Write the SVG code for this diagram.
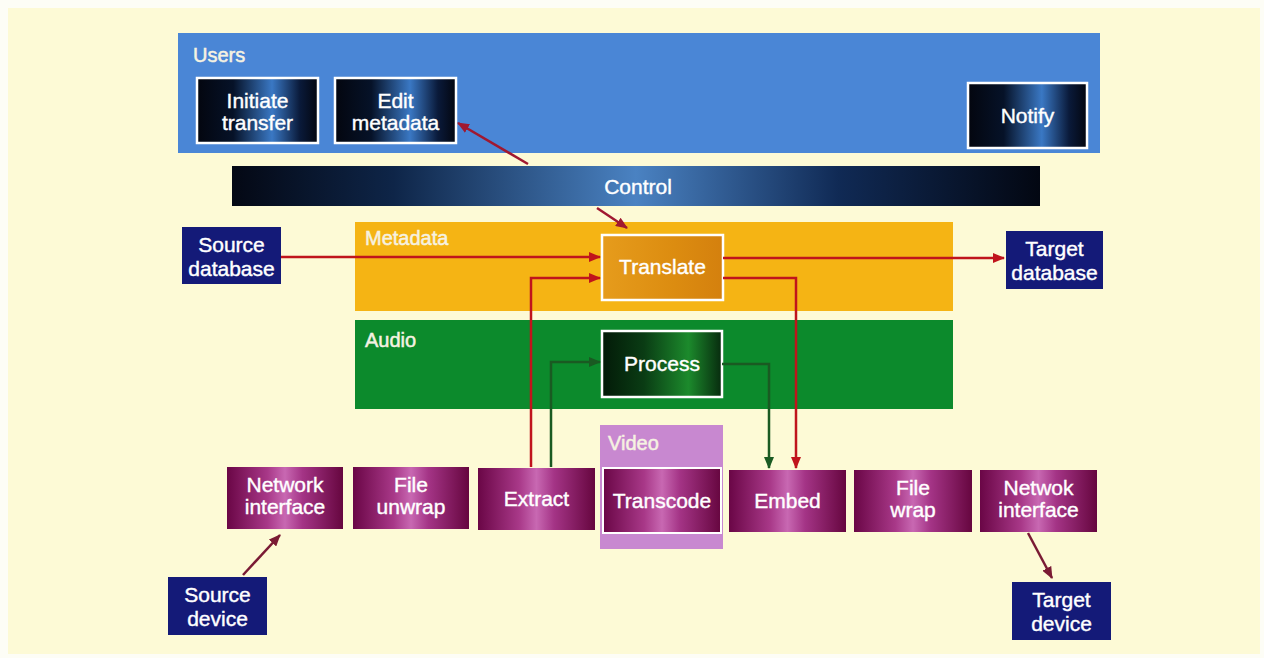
<svg xmlns="http://www.w3.org/2000/svg" width="1264" height="658" viewBox="0 0 1264 658">
  <defs>
    <style>
      .t { font-family: "Liberation Sans", Arial, sans-serif; font-size: 21px; fill: #ffffff; stroke: #ffffff; stroke-width: 0.4; text-anchor: middle; }
      .lbl { font-family: "Liberation Sans", Arial, sans-serif; font-size: 20px; fill: #f6f2e2; stroke: #f6f2e2; stroke-width: 0.5; }
      .box { stroke: #ffffff; stroke-width: 2.5; }
      .navy { fill: #141a78; }
      .purple { fill: url(#gPurple); }
      .red { stroke: #c0141c; stroke-width: 2.5; fill: none; }
      .green { stroke: #1a5a22; stroke-width: 2.5; fill: none; }
      .maroon { stroke: #7a1a34; stroke-width: 2.5; fill: none; }
      .ctl { stroke: #a01830; stroke-width: 2.5; fill: none; }
    </style>
    <linearGradient id="gUser" x1="0" y1="0" x2="1" y2="0">
      <stop offset="0" stop-color="#03060f"/>
      <stop offset="0.3" stop-color="#061228"/>
      <stop offset="0.62" stop-color="#3a78c4"/>
      <stop offset="0.85" stop-color="#0a1a3a"/>
      <stop offset="1" stop-color="#03060f"/>
    </linearGradient>
    <linearGradient id="gControl" x1="0" y1="0" x2="1" y2="0">
      <stop offset="0" stop-color="#040814"/>
      <stop offset="0.2" stop-color="#0e2548"/>
      <stop offset="0.5" stop-color="#4a82c2"/>
      <stop offset="0.75" stop-color="#102a55"/>
      <stop offset="1" stop-color="#030712"/>
    </linearGradient>
    <linearGradient id="gPurple" x1="0" y1="0" x2="1" y2="0">
      <stop offset="0" stop-color="#6a0646"/>
      <stop offset="0.35" stop-color="#a83888"/>
      <stop offset="0.5" stop-color="#c868b2"/>
      <stop offset="0.65" stop-color="#a43486"/>
      <stop offset="1" stop-color="#66063f"/>
    </linearGradient>
    <linearGradient id="gTranslate" x1="0" y1="0" x2="1" y2="0">
      <stop offset="0" stop-color="#e69c1c"/>
      <stop offset="0.6" stop-color="#dc8c10"/>
      <stop offset="1" stop-color="#d4800e"/>
    </linearGradient>
    <linearGradient id="gProcess" x1="0" y1="0" x2="1" y2="0">
      <stop offset="0" stop-color="#031a08"/>
      <stop offset="0.35" stop-color="#0a3c14"/>
      <stop offset="0.72" stop-color="#1c8a2c"/>
      <stop offset="1" stop-color="#072a0e"/>
    </linearGradient>
    <marker id="aRed" viewBox="0 0 12 10" refX="11" refY="5" markerWidth="12" markerHeight="10" markerUnits="userSpaceOnUse" orient="auto">
      <path d="M0,0 L12,5 L0,10 Z" fill="#c0141c"/>
    </marker>
    <marker id="aGreen" viewBox="0 0 12 10" refX="11" refY="5" markerWidth="12" markerHeight="10" markerUnits="userSpaceOnUse" orient="auto">
      <path d="M0,0 L12,5 L0,10 Z" fill="#1a5a22"/>
    </marker>
    <marker id="aMaroon" viewBox="0 0 12 10" refX="11" refY="5" markerWidth="12" markerHeight="10" markerUnits="userSpaceOnUse" orient="auto">
      <path d="M0,0 L12,5 L0,10 Z" fill="#7a1a34"/>
    </marker>
    <marker id="aCtl" viewBox="0 0 12 10" refX="11" refY="5" markerWidth="12" markerHeight="10" markerUnits="userSpaceOnUse" orient="auto">
      <path d="M0,0 L12,5 L0,10 Z" fill="#a01830"/>
    </marker>
  </defs>

  <!-- page -->
  <rect x="0" y="0" width="1264" height="658" fill="#fdfdf6"/>
  <rect x="8" y="8" width="1252" height="646" fill="#fdfad6"/>

  <!-- layer bands -->
  <g id="users">
    <rect x="178" y="33" width="922" height="120" fill="#4a86d6"/>
    <text class="lbl" x="193" y="62">Users</text>
  </g>
  <g id="control">
    <rect x="232" y="166" width="808" height="40" fill="url(#gControl)"/>
    <text class="t" x="638" y="194">Control</text>
  </g>
  <g id="metadata">
    <rect x="355" y="222" width="598" height="89" fill="#f5b414"/>
    <text class="lbl" x="365" y="245">Metadata</text>
  </g>
  <g id="audio">
    <rect x="355" y="320" width="598" height="89" fill="#0c8a2c"/>
    <text class="lbl" x="365" y="347">Audio</text>
  </g>
  <g id="video">
    <rect x="600" y="425" width="123" height="124" fill="#c888d0"/>
    <text class="lbl" x="608" y="450">Video</text>
  </g>

  <!-- user actions -->
  <g id="initiate-transfer">
    <rect class="box" x="197" y="78" width="121" height="65" fill="url(#gUser)"/>
    <text class="t" x="257.5" y="108">Initiate</text>
    <text class="t" x="257.5" y="130">transfer</text>
  </g>
  <g id="edit-metadata">
    <rect class="box" x="335" y="78" width="121" height="65" fill="url(#gUser)"/>
    <text class="t" x="395.5" y="108">Edit</text>
    <text class="t" x="395.5" y="130">metadata</text>
  </g>
  <g id="notify">
    <rect class="box" x="968" y="83" width="119" height="65" fill="url(#gUser)"/>
    <text class="t" x="1027.5" y="123">Notify</text>
  </g>

  <!-- processing steps -->
  <g id="translate">
    <rect class="box" x="602" y="235" width="121" height="65" fill="url(#gTranslate)"/>
    <text class="t" x="662.5" y="274">Translate</text>
  </g>
  <g id="process">
    <rect class="box" x="602" y="331" width="120" height="66" fill="url(#gProcess)"/>
    <text class="t" x="662" y="371">Process</text>
  </g>

  <!-- databases and devices -->
  <g id="source-database">
    <rect class="navy" x="182" y="227" width="99" height="57"/>
    <text class="t" x="231.5" y="252">Source</text>
    <text class="t" x="231.5" y="276">database</text>
  </g>
  <g id="target-database">
    <rect class="navy" x="1006" y="231" width="97" height="58"/>
    <text class="t" x="1054.5" y="256">Target</text>
    <text class="t" x="1054.5" y="280">database</text>
  </g>
  <g id="source-device">
    <rect class="navy" x="168" y="577" width="99" height="58"/>
    <text class="t" x="217.5" y="602">Source</text>
    <text class="t" x="217.5" y="626">device</text>
  </g>
  <g id="target-device">
    <rect class="navy" x="1012" y="582" width="99" height="58"/>
    <text class="t" x="1061.5" y="607">Target</text>
    <text class="t" x="1061.5" y="631">device</text>
  </g>

  <!-- transfer chain -->
  <g id="network-interface-in">
    <rect class="purple" x="227" y="467" width="116" height="62"/>
    <text class="t" x="285" y="492">Network</text>
    <text class="t" x="285" y="514">interface</text>
  </g>
  <g id="file-unwrap">
    <rect class="purple" x="353" y="467" width="116" height="62"/>
    <text class="t" x="411" y="492">File</text>
    <text class="t" x="411" y="514">unwrap</text>
  </g>
  <g id="extract">
    <rect class="purple" x="478" y="468" width="117" height="62"/>
    <text class="t" x="536.5" y="506">Extract</text>
  </g>
  <g id="transcode">
    <rect class="purple" x="603" y="468" width="118" height="65" stroke="#ffffff" stroke-width="2"/>
    <text class="t" x="662" y="508">Transcode</text>
  </g>
  <g id="embed">
    <rect class="purple" x="729" y="470" width="117" height="62"/>
    <text class="t" x="787.5" y="508">Embed</text>
  </g>
  <g id="file-wrap">
    <rect class="purple" x="854" y="470" width="118" height="62"/>
    <text class="t" x="913" y="495">File</text>
    <text class="t" x="913" y="517">wrap</text>
  </g>
  <g id="network-interface-out">
    <rect class="purple" x="980" y="470" width="117" height="62"/>
    <text class="t" x="1038.5" y="495">Netwok</text>
    <text class="t" x="1038.5" y="517">interface</text>
  </g>

  <!-- connectors -->
  <g id="connectors">
    <line class="ctl" x1="528" y1="164" x2="458" y2="123" marker-end="url(#aCtl)"/>
    <line class="ctl" x1="597" y1="208" x2="627" y2="228" marker-end="url(#aCtl)"/>
    <line class="red" x1="281" y1="257" x2="600" y2="257" marker-end="url(#aRed)"/>
    <polyline class="red" points="531,467 531,278 600,278" marker-end="url(#aRed)"/>
    <polyline class="green" points="551,467 551,362 600,362" marker-end="url(#aGreen)"/>
    <line class="red" x1="723" y1="258" x2="1004" y2="258" marker-end="url(#aRed)"/>
    <polyline class="red" points="723,278 796,278 796,468" marker-end="url(#aRed)"/>
    <polyline class="green" points="722,364 769,364 769,468" marker-end="url(#aGreen)"/>
    <line class="maroon" x1="243" y1="575" x2="280" y2="535" marker-end="url(#aMaroon)"/>
    <line class="maroon" x1="1028" y1="533" x2="1052" y2="578" marker-end="url(#aMaroon)"/>
  </g>
</svg>
